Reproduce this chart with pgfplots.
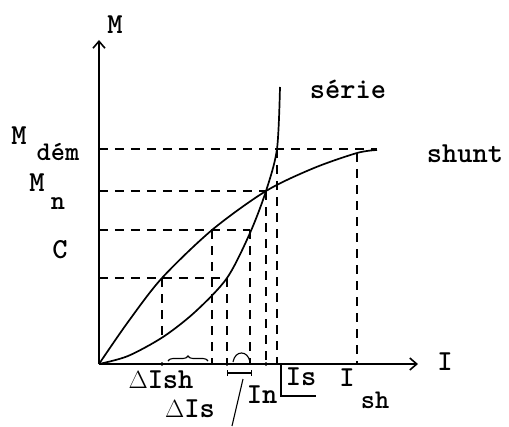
\documentclass[border=0pt]{standalone}
\usepackage{pgfplots}
\pgfplotsset{compat=1.18}
\usepackage{fontspec}
\usetikzlibrary{arrows.meta,decorations.pathreplacing}

% torque M versus current I for series and shunt motors
\begin{document}
\begin{tikzpicture}[
  lbl/.style={font=\ttfamily\bfseries\fontsize{29}{32}\selectfont, inner sep=0pt},
  sub/.style={font=\ttfamily\bfseries\fontsize{27}{30}\selectfont, inner sep=0pt},
]
\path[use as bounding box] (-99pt,-62pt) rectangle (410pt,364pt);
\begin{axis}[
  scale only axis, width=319pt, height=324pt,
  xmin=0, xmax=319, ymin=0, ymax=324,
  axis lines=left,
  axis line style={line width=1.6pt, -{Straight Barb[length=7pt,width=12pt,line width=1.6pt]}},
  ticks=none, clip=false,
]
% guide lines
\pgfplotsset{guide/.style={line width=1.2pt, dash pattern=on 9pt off 7pt}}
\addplot[guide] coordinates {(0,215) (278,215)};
\addplot[guide] coordinates {(0,173) (167,173)};
\addplot[guide] coordinates {(0,134) (151,134)};
\addplot[guide] coordinates {(0,86) (128,86)};
\addplot[guide] coordinates {(63,86) (63,27)};
\addplot[guide] coordinates {(113,134) (113,0)};
\addplot[guide] coordinates {(128,86) (128,0)};
\addplot[guide] coordinates {(151,134) (151,0)};
\addplot[guide] coordinates {(167,173) (167,0)};
\addplot[guide] coordinates {(178,215) (178,0)};
\addplot[guide] coordinates {(258,211) (258,0)};

% series motor
\addplot[smooth, line width=1.7pt] coordinates {
  (0,0) (29,8) (64,27) (96,52) (128,86) (151,131) (167,173) (178,215) (181,277)};
% shunt motor
\addplot[smooth, line width=1.7pt] coordinates {
  (0,0) (29,42) (63,86) (113,134) (167,173) (215,196) (258,211) (278,214)};

\addplot[only marks, mark=*, mark size=1.6pt] coordinates {(63,0) (128,0) (167,0)};

% current intervals
\draw[line width=1.1pt, decorate, decoration={brace, amplitude=5pt}]
  (axis cs:69,3) -- (axis cs:109,3);
\draw[line width=1.1pt] (axis cs:134,2) .. controls (axis cs:136,14) and (axis cs:149,14) .. (axis cs:151,2);
\draw[line width=1.1pt, {Bar[width=6pt]}-{Bar[width=6pt]}] (axis cs:128,-9) -- (axis cs:153,-9);
\draw[line width=1.1pt] (axis cs:133,-62) -- (axis cs:144,-15);
\draw[line width=1.1pt] (axis cs:182,0) -- (axis cs:182,-32) -- (axis cs:217,-32);

% labels
\node[lbl] at (axis cs:16,339) {M};
\node[lbl] at (axis cs:-80,228) {M};
\node[sub] at (axis cs:-41,212) {dém};
\node[lbl] at (axis cs:-62,181) {M};
\node[sub] at (axis cs:-41,160) {n};
\node[lbl] at (axis cs:-39,114) {C};
\node[lbl] at (axis cs:249,275) {série};
\node[lbl] at (axis cs:366,210) {shunt};
\node[lbl] at (axis cs:346,2) {I};
\node[lbl] at (axis cs:62,-16) {$\Delta$Ish};
\node[lbl] at (axis cs:91,-45) {$\Delta$Is};
\node[lbl] at (axis cs:163,-31) {In};
\node[lbl] at (axis cs:202,-13) {Is};
\node[lbl] at (axis cs:248,-14) {I};
\node[sub] at (axis cs:276,-36) {sh};
\end{axis}
\end{tikzpicture}
\end{document}
